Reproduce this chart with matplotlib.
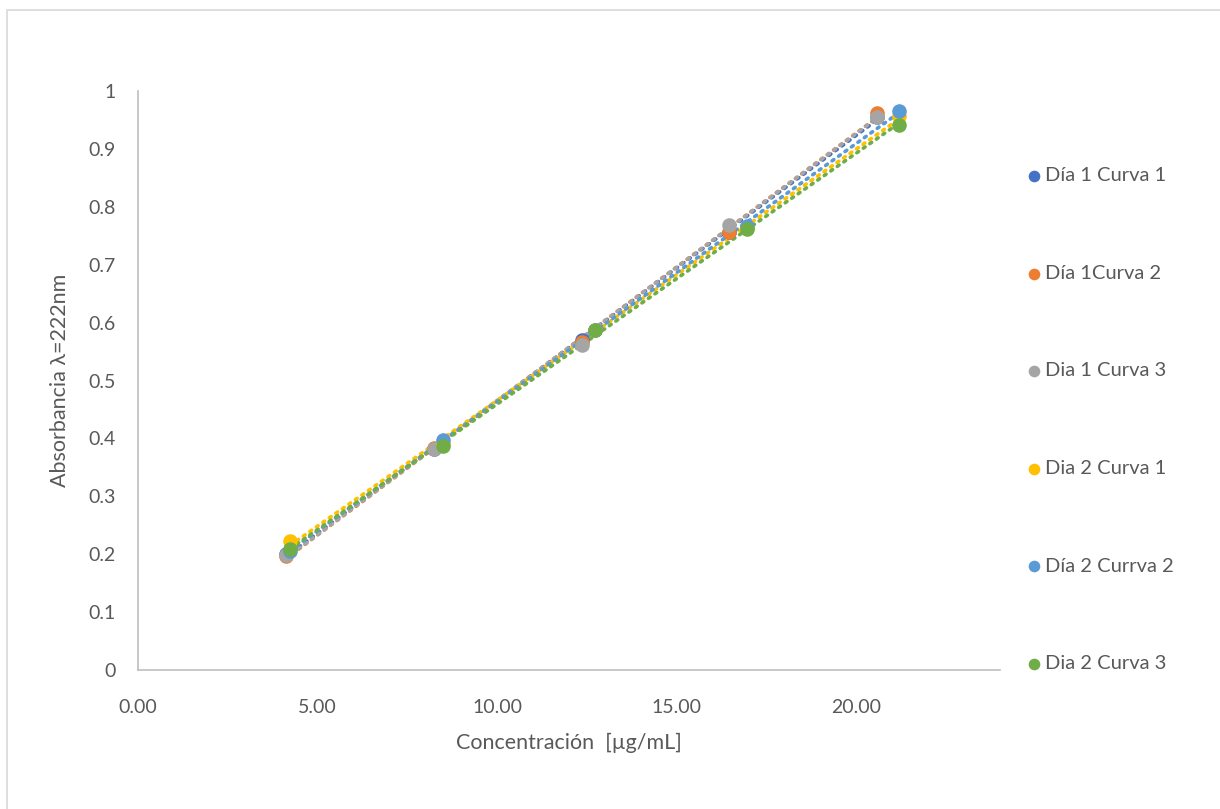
import numpy as np
import matplotlib.pyplot as plt
from matplotlib.patches import Rectangle

plt.rcParams['font.family'] = ['Lato', 'DejaVu Sans']

# concentraciones por día (µg/mL)
conc_dia1 = [4.12, 8.23, 12.35, 16.46, 20.57]
conc_dia2 = [4.24, 8.48, 12.72, 16.96, 21.20]

# absorbancias a 222 nm
d1_c1 = [0.200, 0.382, 0.570, 0.757, 0.955]
d1_c2 = [0.197, 0.383, 0.567, 0.757, 0.962]
d1_c3 = [0.199, 0.381, 0.562, 0.769, 0.955]
d2_c1 = [0.222, 0.390, 0.588, 0.763, 0.956]
d2_c2 = [0.205, 0.398, 0.588, 0.767, 0.966]
d2_c3 = [0.209, 0.387, 0.588, 0.761, 0.941]

labels = ['Día 1 Curva 1', 'Día 1Curva 2', 'Dia 1 Curva 3',
          'Dia 2 Curva 1', 'Día 2 Currva 2', 'Dia 2 Curva 3']
colors = ['#4472c4', '#ed7d31', '#a5a5a5', '#ffc000', '#5b9bd5', '#70ad47']

series = [(conc_dia1, d1_c1), (conc_dia1, d1_c2), (conc_dia1, d1_c3),
          (conc_dia2, d2_c1), (conc_dia2, d2_c2), (conc_dia2, d2_c3)]

fig = plt.figure(figsize=(12.2, 8.09), dpi=100)
ax = fig.add_axes([138 / 1220, 1 - 670 / 809, (1000 - 138) / 1220, (670 - 91) / 809])

# border around the chart area
fig.patches.append(Rectangle((7 / 1220, -0.01), 1.1, 1 - 9.5 / 809 + 0.01,
                             transform=fig.transFigure, fill=False,
                             edgecolor='#d9d9d9', linewidth=1.2))

handles = []
for (x, y), c, lab in zip(series, colors, labels):
    x = np.array(x)
    y = np.array(y)
    h = ax.scatter(x, y, s=110, color=c, zorder=3, label=lab, linewidths=0)
    handles.append(h)
    # linear trendline, dotted
    m, b = np.polyfit(x, y, 1)
    xs = np.array([x.min(), x.max()])
    ax.plot(xs, m * xs + b, color=c, linestyle=(0, (0.6, 1.6)), linewidth=2.6,
            dash_capstyle='round', zorder=2)

ax.set_xlim(0, 24)
ax.set_ylim(0, 1)
ax.set_xticks([0, 5, 10, 15, 20])
ax.set_xticklabels([f'{v:.2f}' for v in [0, 5, 10, 15, 20]])
ax.set_yticks(np.arange(0, 1.01, 0.1))
ax.set_yticklabels(['0'] + [f'{v:.1f}' for v in np.arange(0.1, 0.95, 0.1)] + ['1'])

for s in ['top', 'right']:
    ax.spines[s].set_visible(False)
for s in ['left', 'bottom']:
    ax.spines[s].set_color('#bfbfbf')
    ax.spines[s].set_linewidth(1.2)
ax.tick_params(length=0, labelsize=14, colors='#595959')
ax.tick_params(axis='x', pad=21)
ax.tick_params(axis='y', pad=16)

ax.set_xlabel('Concentración  [µg/mL]', fontsize=15.5, color='#595959', labelpad=12)
ax.set_ylabel('Absorbancia λ=222nm', fontsize=15.5, color='#595959', labelpad=13)

fig.legend(handles=handles, loc='upper left', bbox_to_anchor=(1016 / 1220, 1 - 159 / 809),
           frameon=False, fontsize=14.5, labelcolor='#595959', markerscale=0.8,
           handletextpad=0.05, handlelength=1.0, labelspacing=4.0, borderaxespad=0)

fig.savefig('out.png', dpi=100, facecolor='white')
